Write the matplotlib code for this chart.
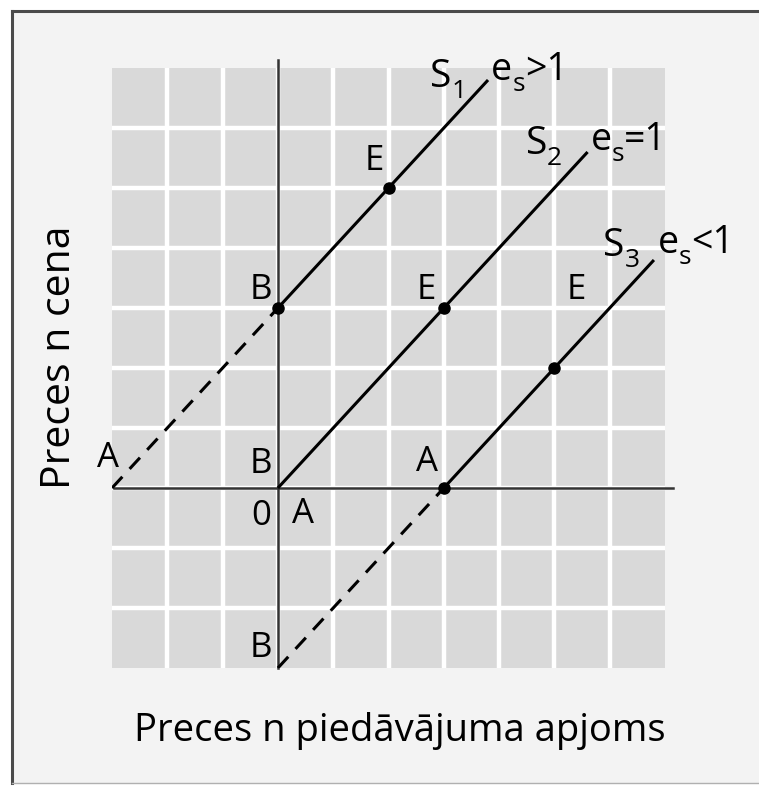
import matplotlib
matplotlib.use("Agg")
import matplotlib.pyplot as plt
from matplotlib.patches import Rectangle
from matplotlib.lines import Line2D
from matplotlib.transforms import IdentityTransform

plt.rcParams['font.family'] = ['Open Sans', 'DejaVu Sans']

# grid extent (cells)
x_min, x_max = -3, 7
y_min, y_max = -3, 7

# supply curves: solid part start / end, slope 1
curve_sub = ['1', '2', '3']
curve_tags = ['>1', '=1', '<1']
solid_x0 = [0, 0, 3]
solid_y0 = [3, 0, 0]
solid_x1 = [3.8, 5.6, 6.8]
solid_y1 = [6.8, 5.6, 3.8]

# dashed extensions
dash_x = [[-3, 0], [0, 3]]
dash_y = [[0, 3], [-3, 0]]

# marked points
dot_x = [0, 2, 3, 5, 3]
dot_y = [3, 5, 3, 2, 0]

# point letters
pt_text = ['B', 'E', 'E', 'E', 'A', 'A', 'B', '0', 'A', 'B']
pt_x = [-0.31, 1.74, 2.69, 5.39, 2.7, -3.07, -0.31, -0.31, 0.45, -0.31]
pt_y = [3.3, 5.45, 3.3, 3.3, 0.43, 0.5, 0.4, -0.47, -0.43, -2.67]

# label offsets (pixels) from the end of each solid line
name_off = [(-58, -7), (-62, -2), (-51, 4)]
tag_off = [(3, 0), (3, 2), (4, 7)]

fig = plt.figure(figsize=(7.59, 7.86), dpi=100, facecolor='white')

# panel background and frame
fig.add_artist(Rectangle((12/759, 3/786), 1, 772/786, transform=fig.transFigure,
                         facecolor='#f3f3f3', edgecolor='none', zorder=0))
fig.add_artist(Line2D([12/759, 12/759], [3/786, 775/786], transform=fig.transFigure,
                      color='#4a4a4a', lw=2.2))
fig.add_artist(Line2D([12/759, 1], [775/786, 775/786], transform=fig.transFigure,
                      color='#4a4a4a', lw=2.2))
fig.add_artist(Line2D([12/759, 1], [3.5/786, 3.5/786], transform=fig.transFigure,
                      color='#b0b0b0', lw=1))

ax = fig.add_axes([112/759, 118/786, 553/759, 600/786])
ax.set_xlim(x_min, x_max)
ax.set_ylim(y_min, y_max)
ax.set_facecolor('#d9d9d9')
for s in ax.spines.values():
    s.set_visible(False)
ax.set_xticks([])
ax.set_yticks([])

for v in range(x_min + 1, x_max):
    ax.axvline(v, color='white', lw=3.2, zorder=1)
for v in range(y_min + 1, y_max):
    ax.axhline(v, color='white', lw=3.2, zorder=1)

# axes of the diagram
ax.plot([0, 0], [y_min, 7.13], color='#333333', lw=1.8, clip_on=False, zorder=2)
ax.plot([-2.97, 7.15], [0, 0], color='#333333', lw=1.8, clip_on=False, zorder=2)

renderer = fig.canvas.get_renderer()


def put_run(x, y, pieces):
    # pieces: (text, size, drop in px); placed left to right in pixels
    for txt, size, drop in pieces:
        t = fig.text(x, y + drop, txt, fontsize=size, ha='left', va='baseline',
                     transform=IdentityTransform())
        x += t.get_window_extent(renderer).width


for i in range(3):
    ax.plot([solid_x0[i], solid_x1[i]], [solid_y0[i], solid_y1[i]], color='black',
            lw=2.2, solid_capstyle='butt', clip_on=False, zorder=3)
    ex, ey = ax.transData.transform((solid_x1[i], solid_y1[i]))
    put_run(ex + name_off[i][0], ey + name_off[i][1],
            [('S', 28, 0), (curve_sub[i], 19, -11)])
    put_run(ex + tag_off[i][0], ey + tag_off[i][1],
            [('e', 27, 0), ('s', 19, -11), (curve_tags[i], 27, 0)])

for xs, ys in zip(dash_x, dash_y):
    ax.plot(xs, ys, color='black', lw=2.2, dashes=(5, 3.5), zorder=3)

ax.plot(dot_x, dot_y, 'o', color='black', ms=8, zorder=4)

for t, x, y in zip(pt_text, pt_x, pt_y):
    ax.text(x, y, t, ha='center', va='center', fontsize=25)

fig.text(400/759, 45/786, 'Preces n piedāvājuma apjoms', ha='center', va='baseline',
         fontsize=27.5)
fig.text(60/759, 1 - 357/786, 'Preces n cena', ha='center', va='center',
         rotation=90, fontsize=29.5)

fig.savefig('out.png', dpi=100, facecolor='white')
